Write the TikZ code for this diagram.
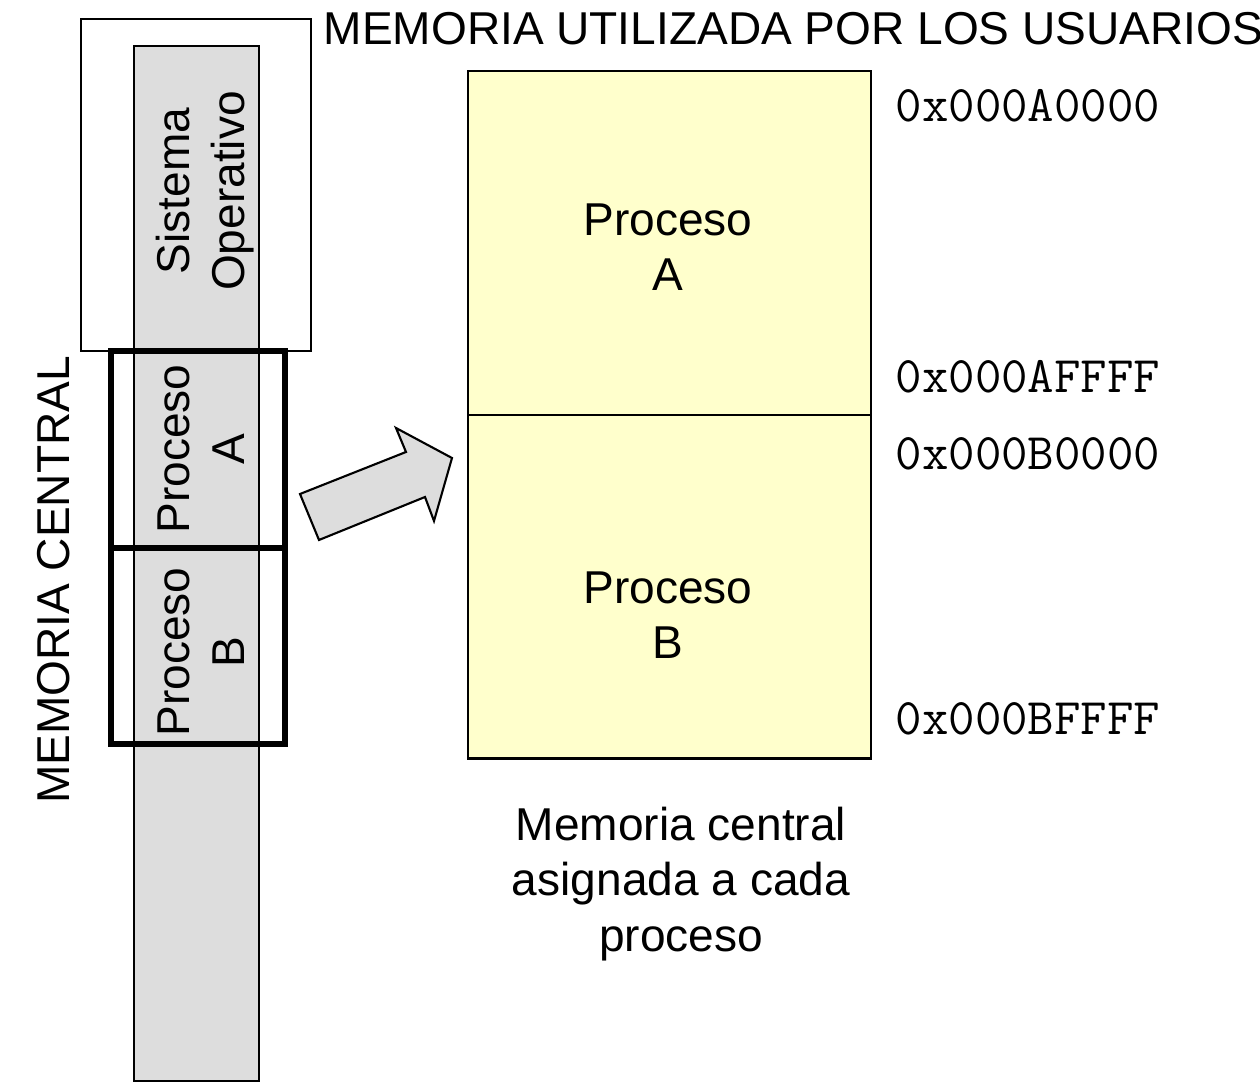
\documentclass[tikz,border=0pt]{standalone}
\usepackage{fontspec}
\setmainfont{Liberation Sans}
\usetikzlibrary{positioning}
\definecolor{gris}{HTML}{DDDDDD}
\definecolor{amarillo}{HTML}{FFFFCC}
\tikzset{txt/.style={font=\fontsize{13.1}{15.7}\selectfont,align=center,inner sep=0pt},
dir/.style={font=\ttfamily\fontsize{14.6}{17}\selectfont,inner sep=0pt,anchor=base west},
marco/.style={draw,line width=1.7pt,minimum width=1.74cm,minimum height=1.96cm,inner sep=0pt,outer sep=0pt},
bloque/.style={draw,line width=0.6pt,fill=amarillo,minimum width=4.03cm,minimum height=3.435cm,inner sep=0pt,outer sep=0pt}}

\begin{document}
\begin{tikzpicture}[x=0.01cm,y=-0.01cm]
        \useasboundingbox (0,0) rectangle (1260,1083);
        % memoria central
        \draw[fill=gris,line width=0.6pt] (134,46) rectangle (259,1081);
        \draw[line width=0.6pt] (81,19) rectangle (311,351);
        \node[txt,rotate=90] (so) at (205,191) {Sistema\\Operativo};
        \node[marco] (ma) at (198,449.5) {};
        \node[marco,below=0 of ma] (mb) {};
        \node[txt,rotate=90] (ta) at (201,449) {Proceso\\A};
        \node[txt,rotate=90] (tb) at (201,652) {Proceso\\B};
        \node[txt,rotate=90] (mc) at (54,580) {MEMORIA CENTRAL};
        \node[txt,anchor=base west] (us) at (323,45) {MEMORIA UTILIZADA POR LOS USUARIOS};

        % flecha
        \draw[fill=gris,line width=0.6pt] (319,540) -- (300,494) -- (406,452) -- (396,428)
            -- (452,458) -- (434,521) -- (425,497) -- cycle;

        % memoria asignada
        \node[bloque] (pa) at (669.5,243) {};
        \node[bloque,below=0 of pa] (pb) {};
        \node[txt] (la) at (668,247.5) {Proceso\\A};
        \node[txt] (lb) at (668,615.5) {Proceso\\B};
        \node[dir] (d1) at (895,122) {0x000A0000};
        \node[dir] (d2) at (895,393) {0x000AFFFF};
        \node[dir] (d3) at (895,470) {0x000B0000};
        \node[dir] (d4) at (895,735) {0x000BFFFF};
        \node[txt] (cap) at (681,884) {Memoria central\\asignada a cada\\proceso};
    \end{tikzpicture}
\end{document}
